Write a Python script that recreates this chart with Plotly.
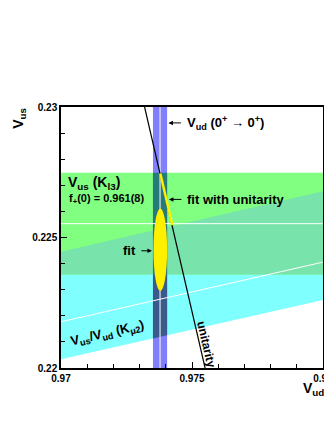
import numpy as np
import plotly.graph_objects as go

# Vud from superallowed 0+ -> 0+ decays: central value, half width
vud_ft = [0.97378, 0.00027]
# Vus from Kl3 decays: central value, half width
vus_kl3 = [0.22553, 0.00195]
# Vus/Vud from Kmu2: low edge, central line, high edge
ratio_km2 = [0.22715, 0.22863, 0.2314]
# fit ellipse: centre (Vud, Vus) and half axes
fit_centre = [0.97379, 0.22453]
fit_err = [0.00026, 0.00158]
# fit with unitarity: Vus range of the segment
vus_fit_unit = [0.22548, 0.22745]
# unitarity curve end points in Vus
vus_unit = [0.22, 0.23]

x_range = [0.97, 0.98]
y_range = [0.22, 0.23]
x_ticks = [0.97, 0.975, 0.98]
x_ticktext = ["0.97", "0.975", "0.98"]
y_ticks = [0.22, 0.225, 0.23]
y_ticktext = ["0.22", "0.225", "0.23"]

c_cyan = "#80ffff"
c_green = "#80ff80"
c_mint = "#78e3aa"
c_blue = "#8080ff"
c_teal = "#277a7a"
c_dblue = "#3b5a8c"
c_yellow = "#fff000"

FONT = "Liberation Sans, Arial, Helvetica, sans-serif"

fig = go.Figure()


def poly(xs, ys, color):
    fig.add_trace(go.Scatter(
        x=list(xs) + [xs[0]], y=list(ys) + [ys[0]], mode="lines",
        fill="toself", fillcolor=color, line=dict(width=0),
        hoverinfo="skip", showlegend=False,
    ))


def line(xs, ys, color, width):
    fig.add_trace(go.Scatter(
        x=xs, y=ys, mode="lines", line=dict(color=color, width=width),
        hoverinfo="skip", showlegend=False,
    ))


x0, x1 = x_range
y0, y1 = y_range
r_lo, r_c, r_hi = ratio_km2
g_lo, g_hi = vus_kl3[0] - vus_kl3[1], vus_kl3[0] + vus_kl3[1]
v_lo, v_hi = vud_ft[0] - vud_ft[1], vud_ft[0] + vud_ft[1]

# Kmu2 band (cyan)
poly([x0, x1, x1, x0], [r_lo * x0, r_lo * x1, r_hi * x1, r_hi * x0], c_cyan)
# Kl3 band (green)
poly([x0, x1, x1, x0], [g_lo, g_lo, g_hi, g_hi], c_green)
# overlap Kl3 / Kmu2
poly([x0, x1, x1, x0],
     [max(g_lo, r_lo * x0), max(g_lo, r_lo * x1), min(g_hi, r_hi * x1), min(g_hi, r_hi * x0)],
     c_mint)
# Vud band
poly([v_lo, v_hi, v_hi, v_lo], [y0, y0, y1, y1], c_blue)
# Vud x Kmu2
poly([v_lo, v_hi, v_hi, v_lo], [r_lo * v_lo, r_lo * v_hi, g_lo, g_lo], c_dblue)
# Vud x Kl3
poly([v_lo, v_hi, v_hi, v_lo], [g_lo, g_lo, g_hi, g_hi], c_teal)

# central values
line([vud_ft[0], vud_ft[0]], [y0, y1], "white", 1)
line([x0, x1], [vus_kl3[0], vus_kl3[0]], "white", 1)
line([x0, x1], [r_c * x0, r_c * x1], "white", 1)

# unitarity
vus_u = np.array(vus_unit)
line(np.sqrt(1 - vus_u**2), vus_u, "black", 1.2)
vus_f = np.array(vus_fit_unit)
line(np.sqrt(1 - vus_f**2), vus_f, c_yellow, 2.5)

# fit ellipse
fig.add_shape(type="circle", xref="x", yref="y",
              x0=fit_centre[0] - fit_err[0], x1=fit_centre[0] + fit_err[0],
              y0=fit_centre[1] - fit_err[1], y1=fit_centre[1] + fit_err[1],
              fillcolor=c_yellow, line=dict(width=0), layer="above")


def label(text, x, y, size, xanchor="left", angle=0, ref="x"):
    fig.add_annotation(
        text=text, x=x, y=y, xref=ref, yref=ref.replace("x", "y"),
        showarrow=False, xanchor=xanchor, yanchor="middle", textangle=angle,
        font=dict(family=FONT, size=size, color="black", weight="bold"),
    )


def arrow(x, y, ax):
    # tip at (x, y) in data, tail ax pixels away horizontally
    fig.add_annotation(
        text="", x=x, y=y, xref="x", yref="y", ax=ax, ay=0,
        showarrow=True, arrowhead=2, arrowsize=0.9, arrowwidth=1,
        arrowcolor="black",
    )


label("V<sub>ud</sub> (0<sup>+</sup> → 0<sup>+</sup>)", 0.97472, 0.22939, 13)
arrow(0.97410, 0.22939, 14)
label("V<sub>us</sub> (K<sub>l3</sub>)", 0.97019, 0.22709, 14)
label("f<sub>+</sub>(0) = 0.961(8)", 0.97023, 0.22649, 11)
label("fit with unitarity", 0.97472, 0.22646, 13)
arrow(0.97412, 0.22646, 14)
label("fit", 0.97293, 0.22449, 13, xanchor="right")
arrow(0.97347, 0.22449, -12)
label("V<sub>us</sub>/V<sub>ud</sub> (K<sub>μ2</sub>)", 0.97178, 0.22132, 13,
      xanchor="center", angle=-13)
label("unitarity", 0.97555, 0.22088, 12, xanchor="center", angle=77)
label("V<sub>us</sub>", -0.16, 0.955, 14, xanchor="center", angle=-90, ref="paper")
label("V<sub>ud</sub>", 0.962, -0.081, 14, xanchor="center", ref="paper")

axis_common = dict(
    showline=True, linecolor="black", linewidth=1.5, mirror=True,
    showgrid=False, zeroline=False, ticks="inside", ticklen=6,
    tickcolor="black", tickwidth=1, automargin=False,
    ticklabeloverflow="allow",
    minor=dict(dtick=0.001, ticks="inside", ticklen=4, tickcolor="black"),
    tickfont=dict(family=FONT, size=10, color="black", weight="bold"),
)
fig.update_xaxes(range=x_range, tickvals=x_ticks, ticktext=x_ticktext,
                 tick0=0.97, **axis_common)
fig.update_yaxes(range=y_range, tickvals=y_ticks, ticktext=y_ticktext,
                 tick0=0.22, **axis_common)

# the page body adds 8 px around the figure
fig.update_layout(
    width=324, height=422,
    margin=dict(l=53, r=9, t=99, b=62),
    plot_bgcolor="white", paper_bgcolor="white",
    showlegend=False,
)

fig.write_html("out.html")
